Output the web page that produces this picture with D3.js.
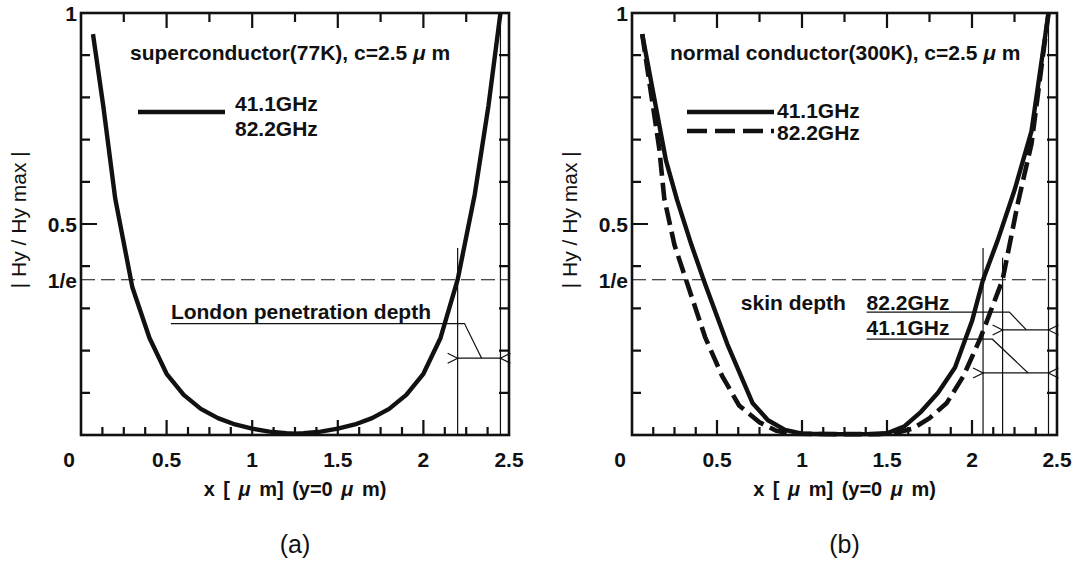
<!DOCTYPE html>
<html>
<head>
<meta charset="utf-8">
<script src="https://cdn.jsdelivr.net/npm/d3@7"></script>
<style>
  body { margin: 0; background: #fff; }
  svg { display: block; }
  text { font-family: "Liberation Sans", Arial, Helvetica, sans-serif; fill: #111; }
</style>
</head>
<body>
<svg id="chart" width="1079" height="563"></svg>
<script>
// ---- data -------------------------------------------------------------
// superconductor (77 K): 41.1 GHz and 82.2 GHz give the same profile
const xSuper = [0.07, 0.13, 0.2, 0.3, 0.4, 0.5, 0.6, 0.7, 0.8, 0.9, 1.0, 1.1, 1.2, 1.25,
                1.3, 1.4, 1.5, 1.6, 1.7, 1.8, 1.9, 2.0, 2.1, 2.2, 2.3, 2.38, 2.45];
const hSuper = [0.95, 0.78, 0.56, 0.35, 0.23, 0.145, 0.095, 0.062, 0.04, 0.025, 0.015, 0.008, 0.004, 0.003,
                0.004, 0.008, 0.015, 0.025, 0.04, 0.062, 0.095, 0.145, 0.23, 0.368, 0.57, 0.78, 1.0];

// normal conductor (300 K), 41.1 GHz
const xNormal41 = [0.06, 0.2, 0.265, 0.35, 0.43, 0.56, 0.71, 0.8, 0.9, 1.0, 1.2, 1.4, 1.5,
                   1.6, 1.7, 1.8, 1.9, 2.0, 2.065, 2.15, 2.25, 2.35, 2.45];
const hNormal41 = [0.95, 0.65, 0.557, 0.45, 0.358, 0.216, 0.075, 0.035, 0.012, 0.003, 0.002, 0.002, 0.004,
                   0.02, 0.055, 0.1, 0.16, 0.27, 0.368, 0.46, 0.58, 0.72, 1.0];

// normal conductor (300 K), 82.2 GHz
const xNormal82 = [0.06, 0.16, 0.19, 0.25, 0.33, 0.43, 0.53, 0.63, 0.75, 0.85, 0.95, 1.2, 1.45,
                   1.55, 1.65, 1.75, 1.85, 1.95, 2.05, 2.18, 2.27, 2.35, 2.45];
const hNormal82 = [0.95, 0.68, 0.56, 0.45, 0.353, 0.232, 0.14, 0.07, 0.03, 0.01, 0.003, 0.002, 0.002,
                   0.005, 0.015, 0.04, 0.075, 0.14, 0.23, 0.368, 0.55, 0.69, 1.0];

// depths where |Hy/Hy max| falls to 1/e, and the conductor surface
const londonDepthX = 2.2;
const skinDepthX = { "41.1GHz": 2.065, "82.2GHz": 2.18 };
const surfaceX = 2.45;

const xTickValues = [0, 0.5, 1, 1.5, 2, 2.5];
const xTickLabels = ["0", "0.5", "1", "1.5", "2", "2.5"];
const yTickValues = [1, 0.5, 1 / Math.E];
const yTickLabels = ["1", "0.5", "1/e"];
const freqLabels = ["41.1GHz", "82.2GHz"];

// minor tick positions along each side
const bottomTicks = d3.range(1, 20).map(i => i * 0.125);
const topTicks = d3.range(1, 10).map(i => i * 0.25);
const sideTicks = d3.range(1, 10).map(i => i / 10);

// ---- drawing ----------------------------------------------------------
const ink = "#111";
const labelSize = 21;
const svg = d3.select("#chart");
svg.append("rect").attr("width", 1079).attr("height", 563).attr("fill", "#fff");

svg.append("defs").append("marker")
  .attr("id", "vee")
  .attr("viewBox", "-1 -6 12 12")
  .attr("refX", 0).attr("refY", 0)
  .attr("markerUnits", "userSpaceOnUse")
  .attr("markerWidth", 12).attr("markerHeight", 12)
  .attr("orient", "auto-start-reverse")
  .append("path")
  .attr("d", "M10,-5 L0,0 L10,5")
  .attr("fill", "none").attr("stroke", ink).attr("stroke-width", 1.2);

function boldText(g, xp, yp, size) {
  return g.append("text").attr("x", xp).attr("y", yp)
    .attr("font-size", size).attr("font-weight", "bold");
}

const isMultiple = (v, step) => Math.abs(v / step - Math.round(v / step)) < 1e-6;

function drawPanel(o) {
  const x = d3.scaleLinear().domain([0, 2.5]).range([o.left, o.right]);
  const y = d3.scaleLinear().domain([0, 1]).range([435, 13]);
  const g = svg.append("g");

  // ticks on all four sides, one path per side
  const tickPath = d => g.append("path").attr("d", d)
    .attr("fill", "none").attr("stroke", ink).attr("stroke-width", 2.2);
  tickPath(bottomTicks.map(v => `M${x(v)},${y(0)}V${y(0) - (isMultiple(v, 0.5) ? 15 : 8)}`).join(""));
  tickPath(topTicks.map(v => `M${x(v)},${y(1)}V${y(1) + (isMultiple(v, 0.5) ? 15 : 9)}`).join(""));
  tickPath(sideTicks.map(v => `M${x(0)},${y(v)}H${x(0) + (isMultiple(v, 0.5) ? 16 : 9)}`).join(""));
  tickPath(sideTicks.map(v => `M${x(2.5)},${y(v)}H${x(2.5) - 10}`).join(""));

  // frame
  g.append("rect")
    .attr("x", x(0)).attr("y", y(1))
    .attr("width", x(2.5) - x(0)).attr("height", y(0) - y(1))
    .attr("fill", "none").attr("stroke", ink).attr("stroke-width", 2.6);

  // tick labels
  g.selectAll(".xlab").data(xTickValues).enter().append("text")
    .attr("x", (d, i) => (i === 0 ? x(0) - 12 : x(d)))
    .attr("y", 467)
    .attr("text-anchor", "middle")
    .attr("font-size", labelSize).attr("font-weight", "bold")
    .text((d, i) => xTickLabels[i]);

  g.selectAll(".ylab").data(yTickValues).enter().append("text")
    .attr("x", x(0) - 4)
    .attr("y", d => y(d) + 8)
    .attr("text-anchor", "end")
    .attr("font-size", labelSize).attr("font-weight", "bold")
    .text((d, i) => yTickLabels[i]);

  // axis titles
  g.append("text")
    .attr("transform", `translate(${x(0) - 55},${y(0.51)}) rotate(-90)`)
    .attr("text-anchor", "middle").attr("font-size", 21)
    .text("| Hy / Hy max |");

  const xt = g.append("text")
    .attr("x", (x(0) + x(2.5)) / 2).attr("y", 496)
    .attr("text-anchor", "middle").attr("font-size", 20).attr("font-weight", "bold")
    .attr("word-spacing", 3);
  xt.append("tspan").text("x [ ");
  xt.append("tspan").attr("font-style", "italic").text("μ");
  xt.append("tspan").text(" m]  (y=0 ");
  xt.append("tspan").attr("font-style", "italic").text("μ");
  xt.append("tspan").text(" m)");

  g.append("text")
    .attr("x", (x(0) + x(2.5)) / 2).attr("y", 553)
    .attr("text-anchor", "middle").attr("font-size", 25)
    .text(o.tag);

  // panel heading
  const ht = boldText(g, o.headLeft, 60, labelSize);
  ht.append("tspan").text(o.heading + ", c=2.5 ");
  ht.append("tspan").attr("font-style", "italic").text("μ");
  ht.append("tspan").text(" m");

  // 1/e reference line
  g.append("line")
    .attr("x1", x(0)).attr("x2", x(2.5))
    .attr("y1", y(1 / Math.E)).attr("y2", y(1 / Math.E))
    .attr("stroke", ink).attr("stroke-width", 1.2)
    .attr("stroke-dasharray", "14,6");

  // conductor surface
  g.append("line")
    .attr("x1", x(surfaceX)).attr("x2", x(surfaceX))
    .attr("y1", y(1)).attr("y2", y(0))
    .attr("stroke", ink).attr("stroke-width", 1.2);

  return { g, x, y };
}

const line = (x, y) => d3.line().x(d => x(d[0])).y(d => y(d[1]));

// ---- (a) superconductor ----
{
  const { g, x, y } = drawPanel({ left: 81, right: 509, tag: "(a)",
    heading: "superconductor(77K)", headLeft: 130 });

  g.append("path")
    .datum(d3.zip(xSuper, hSuper))
    .attr("d", line(x, y))
    .attr("fill", "none").attr("stroke", ink).attr("stroke-width", 4.4)
    .attr("stroke-linejoin", "round");

  // legend: one line stands for both frequencies
  g.append("line").attr("x1", 138).attr("x2", 225).attr("y1", 112).attr("y2", 112)
    .attr("stroke", ink).attr("stroke-width", 4.4);
  freqLabels.forEach((t, i) => boldText(g, 235, 111 + i * 25, labelSize).text(t));

  // London penetration depth marker
  g.append("line")
    .attr("x1", x(londonDepthX)).attr("x2", x(londonDepthX))
    .attr("y1", y(0.443)).attr("y2", y(0))
    .attr("stroke", ink).attr("stroke-width", 1.2);
  boldText(g, x(0.525), y(0.276), labelSize).text("London penetration depth");
  g.append("path")
    .attr("d", `M${x(0.525)},${y(0.264)} L${x(2.24)},${y(0.264)} L${x(2.34)},${y(0.182)}`)
    .attr("fill", "none").attr("stroke", ink).attr("stroke-width", 1.2);
  g.append("line")
    .attr("x1", x(londonDepthX)).attr("x2", x(surfaceX))
    .attr("y1", y(0.182)).attr("y2", y(0.182))
    .attr("stroke", ink).attr("stroke-width", 1.2)
    .attr("marker-start", "url(#vee)").attr("marker-end", "url(#vee)");
}

// ---- (b) normal conductor ----
{
  const { g, x, y } = drawPanel({ left: 632, right: 1057, tag: "(b)",
    heading: "normal conductor(300K)", headLeft: 670 });

  g.append("path")
    .datum(d3.zip(xNormal41, hNormal41))
    .attr("d", line(x, y))
    .attr("fill", "none").attr("stroke", ink).attr("stroke-width", 4.4)
    .attr("stroke-linejoin", "round");
  g.append("path")
    .datum(d3.zip(xNormal82, hNormal82))
    .attr("d", line(x, y))
    .attr("fill", "none").attr("stroke", ink).attr("stroke-width", 4.6)
    .attr("stroke-dasharray", "18,7");

  // legend
  g.append("line").attr("x1", 687).attr("x2", 774).attr("y1", 112).attr("y2", 112)
    .attr("stroke", ink).attr("stroke-width", 4.4);
  g.append("line").attr("x1", 687).attr("x2", 774).attr("y1", 131).attr("y2", 131)
    .attr("stroke", ink).attr("stroke-width", 4.6).attr("stroke-dasharray", "20,8");
  freqLabels.forEach((t, i) => boldText(g, 777, 118 + i * 22, labelSize).text(t));

  // skin depth markers
  const tops = { "41.1GHz": 0.443, "82.2GHz": 0.42 };
  Object.keys(skinDepthX).forEach(k => {
    g.append("line")
      .attr("x1", x(skinDepthX[k])).attr("x2", x(skinDepthX[k]))
      .attr("y1", y(tops[k])).attr("y2", y(0))
      .attr("stroke", ink).attr("stroke-width", 1.2);
  });
  boldText(g, x(0.64), y(0.296), labelSize).text("skin depth");

  const callouts = [
    { label: "82.2GHz", base: 0.296, under: 0.291, bendX: 2.22, endX: 2.32, arrowY: 0.249 },
    { label: "41.1GHz", base: 0.237, under: 0.227, bendX: 2.12, endX: 2.33, arrowY: 0.147 }
  ];
  callouts.forEach(c => {
    boldText(g, x(1.38), y(c.base), labelSize).text(c.label);
    g.append("path")
      .attr("d", `M${x(1.38)},${y(c.under)} L${x(c.bendX)},${y(c.under)} L${x(c.endX)},${y(c.arrowY)}`)
      .attr("fill", "none").attr("stroke", ink).attr("stroke-width", 1.2);
    g.append("line")
      .attr("x1", x(skinDepthX[c.label])).attr("x2", x(surfaceX))
      .attr("y1", y(c.arrowY)).attr("y2", y(c.arrowY))
      .attr("stroke", ink).attr("stroke-width", 1.2)
      .attr("marker-start", "url(#vee)").attr("marker-end", "url(#vee)");
  });
}
</script>
</body>
</html>
